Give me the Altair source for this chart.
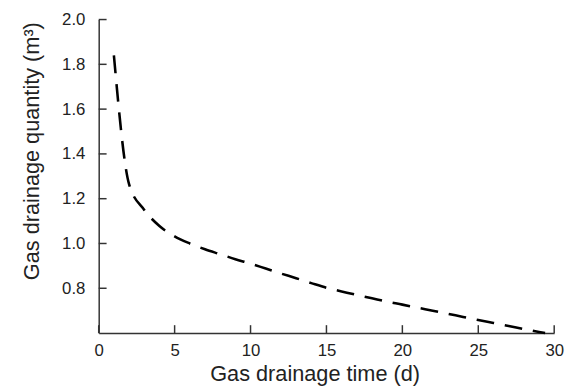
import altair as alt
import pandas as pd

# Data
days = [1, 2, 3, 4, 5, 6, 7, 8, 9, 10, 11, 12, 13, 14, 15, 16, 17, 18, 19, 20,
        21, 22, 23, 24, 25, 26, 27, 28, 29, 29.4]
quantity = [1.84, 1.265, 1.15, 1.078, 1.032, 1.0, 0.974, 0.952, 0.93, 0.91,
            0.888, 0.866, 0.845, 0.823, 0.802, 0.786, 0.77, 0.755, 0.74, 0.727,
            0.713, 0.70, 0.686, 0.672, 0.658, 0.645, 0.632, 0.618, 0.605, 0.60]
x_ticks = [0, 5, 10, 15, 20, 25, 30]
y_ticks = [0.8, 1.0, 1.2, 1.4, 1.6, 1.8, 2.0]

df = pd.DataFrame({"day": days, "q": quantity})
xt = pd.DataFrame({"t": x_ticks})
yt = pd.DataFrame({"t": y_ticks})

W, H = 462, 318
TICK = 8
FONT = "Liberation Sans"
AX = "#333333"
TXT = "#222222"

xscale = alt.Scale(domain=[0, 30], nice=False, zero=False)
yscale = alt.Scale(domain=[0.6, 2.0], nice=False, zero=False)

line = alt.Chart(df).mark_line(
    color="black", strokeWidth=2.6, strokeDash=[18, 11], strokeCap="butt",
    interpolate="monotone"
).encode(
    x=alt.X("day:Q", scale=xscale,
            axis=alt.Axis(values=x_ticks, ticks=False, tickSize=0, grid=False,
                          domainColor=AX, domainWidth=1.5, labelPadding=10,
                          labelFontSize=17, labelColor=TXT, labelFont=FONT,
                          title="Gas drainage time (d)", titleFont=FONT,
                          titleFontSize=22, titleFontWeight="normal",
                          titleColor=TXT, titlePadding=5, titleX=219,
                          labelFlush=False)),
    y=alt.Y("q:Q", scale=yscale,
            axis=alt.Axis(values=y_ticks, ticks=False, tickSize=0, grid=False,
                          domainColor=AX, domainWidth=1.5, labelPadding=14,
                          labelFontSize=17, labelColor=TXT, labelFont=FONT,
                          format=".1f",
                          title="Gas drainage quantity (m³)", titleFont=FONT,
                          titleFontSize=22, titleFontWeight="normal",
                          titleColor=TXT, titlePadding=18, titleY=133)),
)

xtick_marks = alt.Chart(xt).mark_rule(color=AX, strokeWidth=1.5).encode(
    x=alt.X("t:Q", scale=xscale),
    y=alt.value(H),
    y2=alt.value(H - TICK),
)

ytick_marks = alt.Chart(yt).mark_rule(color=AX, strokeWidth=1.5).encode(
    y=alt.Y("t:Q", scale=yscale),
    x=alt.value(0),
    x2=alt.value(TICK),
)

chart = alt.layer(line, xtick_marks, ytick_marks).properties(
    width=W, height=H,
    padding={"left": 13, "top": 0, "right": 4, "bottom": 0},
).configure_view(stroke=None)

chart.save("out.html", embed_options={"renderer": "svg", "actions": False})
